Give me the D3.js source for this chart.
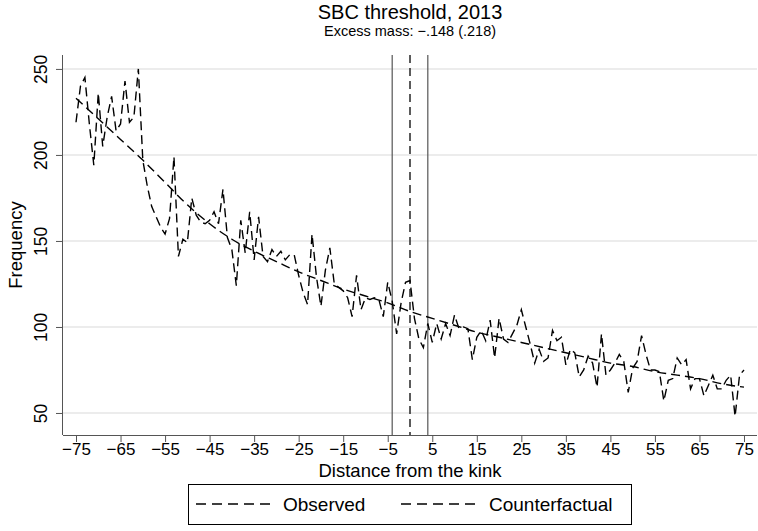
<!DOCTYPE html>
<html>
<head>
<meta charset="utf-8">
<script src="https://cdn.jsdelivr.net/npm/d3@7"></script>
<style>
  body { margin: 0; background: #fff; }
  text { font-family: "Liberation Sans", Arial, Helvetica, sans-serif; fill: #000; }
</style>
</head>
<body>
<script>
width = 758
height = 531

// data: frequency per bin, distance from the kink -75..75
bins = d3.range(-75, 76)
observed = [
  219, 240, 245, 218, 194, 236, 205, 222, 234, 214,
  218, 243, 219, 222, 250, 197, 182, 170, 164, 158,
  154, 163, 199, 141, 151, 149, 175, 165, 161, 160,
  162, 167, 160, 180, 152, 145, 124, 162, 143, 167,
  139, 164, 141, 138, 145, 141, 144, 139, 142, 142,
  130, 120, 113, 154, 129, 112, 133, 146, 125, 123,
  121, 117, 106, 130, 110, 117, 116, 117, 116, 106,
  126, 115, 96, 114, 126, 127, 105, 93, 88, 102,
  91, 102, 93, 102, 95, 107, 99, 100, 99, 81,
  94, 98, 92, 104, 82, 105, 93, 91, 96, 101,
  110, 100, 90, 79, 87, 80, 82, 98, 92, 94,
  78, 87, 85, 71, 75, 83, 79, 65, 96, 72,
  75, 79, 84, 80, 62, 76, 80, 95, 84, 75,
  75, 74, 57, 69, 70, 82, 78, 81, 64, 70,
  70, 60, 66, 72, 64, 64, 69, 72, 48, 72,
  75
]

// counterfactual (fitted polynomial), read every 5 bins
cfBins = [-75, -70, -65, -60, -55, -50, -45, -40, -35, -30, -25, -20, -15, -10, -5, 0,
          5, 10, 15, 20, 25, 30, 35, 40, 45, 50, 55, 60, 65, 70, 75]
counterfactual = [233, 221, 209, 197, 184, 171, 160, 151, 144, 138, 132, 127, 122, 118, 114, 109,
                  105, 101, 97, 94, 91, 88, 85, 82, 79, 77, 74, 72, 70, 67, 65]

// bunching window: lower bound, kink, upper bound
windowLines = [-4, 0, 4]
xTicks = d3.range(-75, 76, 10)
yTicks = [50, 100, 150, 200, 250]

titleText = "SBC threshold, 2013"
subtitleText = "Excess mass: \u2212.148 (.218)"

// plot region (note: "top" is taken by window.top, so use other names)
plotLeft = 63
plotRight = 757
plotTop = 55
plotBottom = 435

x = d3.scaleLinear().domain([-77.92, 77.92]).range([plotLeft, plotRight])
y = d3.scaleLinear().domain([37.2, 258.1]).range([plotBottom, plotTop])

svg = d3.select("body")
    .append("svg")
    .attr("width", width)
    .attr("height", height)

// grid lines
svg.selectAll("line.grid")
    .data(yTicks)
    .enter()
    .append("line")
    .attr("class", "grid")
    .attr("x1", plotLeft)
    .attr("x2", plotRight)
    .attr("y1", function(d) { return y(d); })
    .attr("y2", function(d) { return y(d); })
    .attr("stroke", "#e6e6e6")
    .attr("stroke-width", 1.5)

// axes
xAxis = svg.append("g")
    .attr("transform", "translate(0," + plotBottom + ")")
    .call(d3.axisBottom(x).tickValues(xTicks).tickSize(7).tickPadding(1)
          .tickFormat(d3.format("d")))
xAxis.select(".domain").attr("d", "M" + plotLeft + ",0.5H" + plotRight).attr("stroke", "#555")
xAxis.selectAll(".tick line").attr("stroke", "#555")
xAxis.selectAll(".tick text").attr("font-size", 17).attr("fill", "#000")
    .attr("font-family", "Liberation Sans, Arial, sans-serif")

yAxis = svg.append("g")
    .attr("transform", "translate(" + plotLeft + ",0)")
    .call(d3.axisLeft(y).tickValues(yTicks).tickSize(7).tickFormat(d3.format("d")))
yAxis.select(".domain").attr("d", "M-0.5," + plotTop + "V" + plotBottom).attr("stroke", "#555")
yAxis.selectAll(".tick line").attr("stroke", "#555")
yAxis.selectAll(".tick text")
    .attr("font-size", 17.5)
    .attr("fill", "#000")
    .attr("font-family", "Liberation Sans, Arial, sans-serif")
    .attr("x", null)
    .attr("dy", null)
    .attr("text-anchor", "middle")
    .attr("transform", "translate(-16,0) rotate(-90)")

// vertical lines marking the bunching window
svg.selectAll("line.win")
    .data(windowLines)
    .enter()
    .append("line")
    .attr("class", "win")
    .attr("x1", function(d) { return x(d); })
    .attr("x2", function(d) { return x(d); })
    .attr("y1", plotTop)
    .attr("y2", plotBottom)
    .attr("stroke", function(d) { return d == 0 ? "#333" : "#555"; })
    .attr("stroke-width", function(d) { return d == 0 ? 1.6 : 1.2; })
    .attr("stroke-dasharray", function(d) { return d == 0 ? "8,5" : null; })

// observed and counterfactual lines
line = d3.line()
    .x(function(d) { return x(d[0]); })
    .y(function(d) { return y(d[1]); })

svg.append("path")
    .datum(d3.zip(bins, observed))
    .attr("d", line)
    .attr("fill", "none")
    .attr("stroke", "#000")
    .attr("stroke-width", 1.4)
    .attr("stroke-dasharray", "9,5")

svg.append("path")
    .datum(d3.zip(cfBins, counterfactual))
    .attr("d", line.curve(d3.curveMonotoneX))
    .attr("fill", "none")
    .attr("stroke", "#000")
    .attr("stroke-width", 1.4)
    .attr("stroke-dasharray", "9,5")

// titles
svg.append("text")
    .attr("x", 410).attr("y", 19)
    .attr("text-anchor", "middle")
    .attr("font-size", 20)
    .text(titleText)
svg.append("text")
    .attr("x", 410).attr("y", 36)
    .attr("text-anchor", "middle")
    .attr("font-size", 14.5)
    .text(subtitleText)
svg.append("text")
    .attr("x", 410).attr("y", 477)
    .attr("text-anchor", "middle")
    .attr("font-size", 18.5)
    .text("Distance from the kink")
svg.append("text")
    .attr("transform", "translate(22," + ((plotTop + plotBottom) / 2) + ") rotate(-90)")
    .attr("text-anchor", "middle")
    .attr("font-size", 18.5)
    .text("Frequency")

// legend
legend = svg.append("g")
legend.append("rect")
    .attr("x", 188.5).attr("y", 484.5)
    .attr("width", 443).attr("height", 40)
    .attr("fill", "#fff")
    .attr("stroke", "#000")
legendItems = [
  {label: "Observed", x0: 196, x1: 270, tx: 283},
  {label: "Counterfactual", x0: 401, x1: 478, tx: 489}
]
legend.selectAll("line.key")
    .data(legendItems)
    .enter()
    .append("line")
    .attr("class", "key")
    .attr("x1", function(d) { return d.x0; })
    .attr("x2", function(d) { return d.x1; })
    .attr("y1", 504).attr("y2", 504)
    .attr("stroke", "#000")
    .attr("stroke-width", 1.4)
    .attr("stroke-dasharray", "10,6")
legend.selectAll("text.key")
    .data(legendItems)
    .enter()
    .append("text")
    .attr("class", "key")
    .attr("x", function(d) { return d.tx; })
    .attr("y", 511)
    .attr("font-size", 19)
    .text(function(d) { return d.label; })
</script>
</body>
</html>
